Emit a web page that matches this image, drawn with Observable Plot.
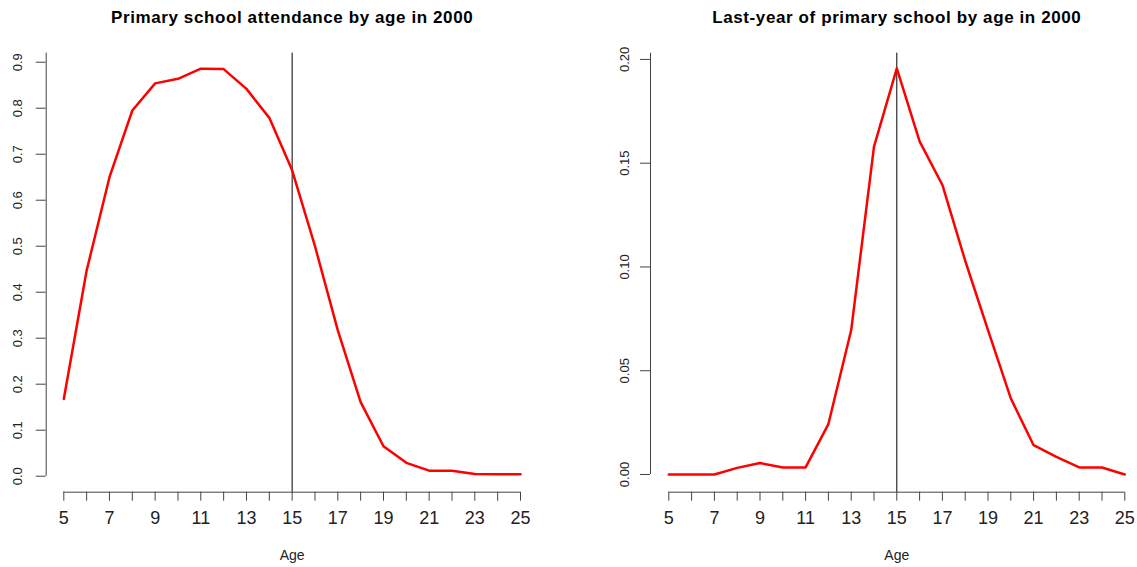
<!DOCTYPE html>
<html>
<head>
<meta charset="utf-8">
<script src="https://cdn.jsdelivr.net/npm/d3@7"></script>
<script src="https://cdn.jsdelivr.net/npm/@observablehq/plot@0.6"></script>
<style>
  html, body { margin: 0; padding: 0; background: #fff; }
  #chart { position: relative; width: 1137px; height: 567px; overflow: hidden; }
  #chart > svg { position: absolute; top: 0; }
</style>
</head>
<body>
<div id="chart"></div>
<script>
// Ages on the horizontal axis
const ages = [5, 6, 7, 8, 9, 10, 11, 12, 13, 14, 15, 16, 17, 18, 19, 20, 21, 22, 23, 24, 25];
const xTickLabels = [5, 7, 9, 11, 13, 15, 17, 19, 21, 23, 25];

// Share of each age attending primary school in 2000
const attendance = [0.168, 0.447, 0.650, 0.795, 0.854, 0.864, 0.886, 0.885, 0.842, 0.779, 0.665,
                    0.500, 0.317, 0.161, 0.065, 0.029, 0.012, 0.012, 0.005, 0.004, 0.004];

// Share of each age in the last year of primary school in 2000
const lastYear = [0.000, 0.000, 0.000, 0.0032, 0.0055, 0.0034, 0.0034, 0.0243, 0.0696, 0.158, 0.1957,
                  0.1605, 0.1395, 0.103, 0.0696, 0.0367, 0.0141, 0.0085, 0.0034, 0.0034, 0.000];

const attendanceTicks = [0, 0.1, 0.2, 0.3, 0.4, 0.5, 0.6, 0.7, 0.8, 0.9];
const attendanceTickLabels = ["0.0", "0.1", "0.2", "0.3", "0.4", "0.5", "0.6", "0.7", "0.8", "0.9"];
const lastYearTicks = [0, 0.05, 0.10, 0.15, 0.20];
const lastYearTickLabels = ["0.00", "0.05", "0.10", "0.15", "0.20"];

const titles = ["Primary school attendance by age in 2000", "Last-year of primary school by age in 2000"];
const xLabel = "Age";
const cutoffAge = 15;

const FONT = "'Liberation Sans', Arial, Helvetica, sans-serif";
const AXIS = "#444";
const INK = "#222";

function panel({values, yTicks, yTickLabels, title, width, marginLeft, marginRight, xDomain, yDomain, labelDx}) {
  const data = ages.map((age, i) => ({age, v: values[i]}));
  const labelOf = new Map(yTicks.map((t, i) => [t, yTickLabels[i]]));
  return Plot.plot({
    width,
    height: 567,
    marginTop: 52.7,
    marginBottom: 75.3,
    marginLeft,
    marginRight,
    style: {fontFamily: FONT, background: "white", overflow: "visible"},
    x: {domain: xDomain, label: null},
    y: {domain: yDomain, label: null},
    marks: [
      // axis lines
      Plot.ruleY([yDomain[0]], {x1: ages[0], x2: ages[ages.length - 1], stroke: AXIS}),
      Plot.ruleX([xDomain[0]], {y1: 0, y2: yDomain[1], stroke: AXIS}),
      // x ticks at every age, labels on odd ages
      Plot.axisX(ages, {
        tickSize: 9, tickPadding: 10, fontSize: 18, stroke: AXIS, fill: INK, label: null,
        tickFormat: d => xTickLabels.includes(d) ? String(d) : ""
      }),
      // y ticks, labels drawn rotated alongside the axis
      Plot.axisY(yTicks, {tickSize: 10, stroke: AXIS, label: null, tickFormat: () => ""}),
      Plot.text(yTicks, {
        y: d => d, text: d => labelOf.get(d), frameAnchor: "left", dx: labelDx,
        rotate: -90, textAnchor: "middle", lineAnchor: "middle", fontSize: 13, fill: INK
      }),
      // reference age
      Plot.ruleX([cutoffAge], {stroke: "black", strokeWidth: 1}),
      // series
      Plot.line(data, {x: "age", y: "v", stroke: "red", strokeWidth: 2.5}),
      // title and x label
      Plot.text([title], {x: cutoffAge, frameAnchor: "top", dy: -36, text: d => d,
        fontSize: 17, fontWeight: "bold", fill: "black", lineAnchor: "middle",
        style: "letter-spacing: 0.6px"}),
      Plot.text([xLabel], {x: cutoffAge, frameAnchor: "bottom", dy: 63, text: d => d,
        fontSize: 14, fill: INK, lineAnchor: "middle"})
    ]
  });
}

const left = panel({
  values: attendance, yTicks: attendanceTicks, yTickLabels: attendanceTickLabels, title: titles[0],
  width: 568, marginLeft: 45.7, marginRight: 30.4,
  xDomain: [4.229, 25.771], yDomain: [-0.0348, 0.9196], labelDx: -28
});
left.style.left = "0px";

const right = panel({
  values: lastYear, yTicks: lastYearTicks, yTickLabels: lastYearTickLabels, title: titles[1],
  width: 569, marginLeft: 82, marginRight: 0,
  xDomain: [4.197, 25.557], yDomain: [-0.00853, 0.203], labelDx: -26
});
right.style.left = "568px";

// Title letter spacing set directly on the text elements
for (const svg of [left, right]) {
  svg.querySelectorAll("text").forEach(t => {
    if (titles.includes(t.textContent)) t.setAttribute("letter-spacing", "0.6");
  });
}

const chart = document.getElementById("chart");
chart.append(left, right);
</script>
</body>
</html>
